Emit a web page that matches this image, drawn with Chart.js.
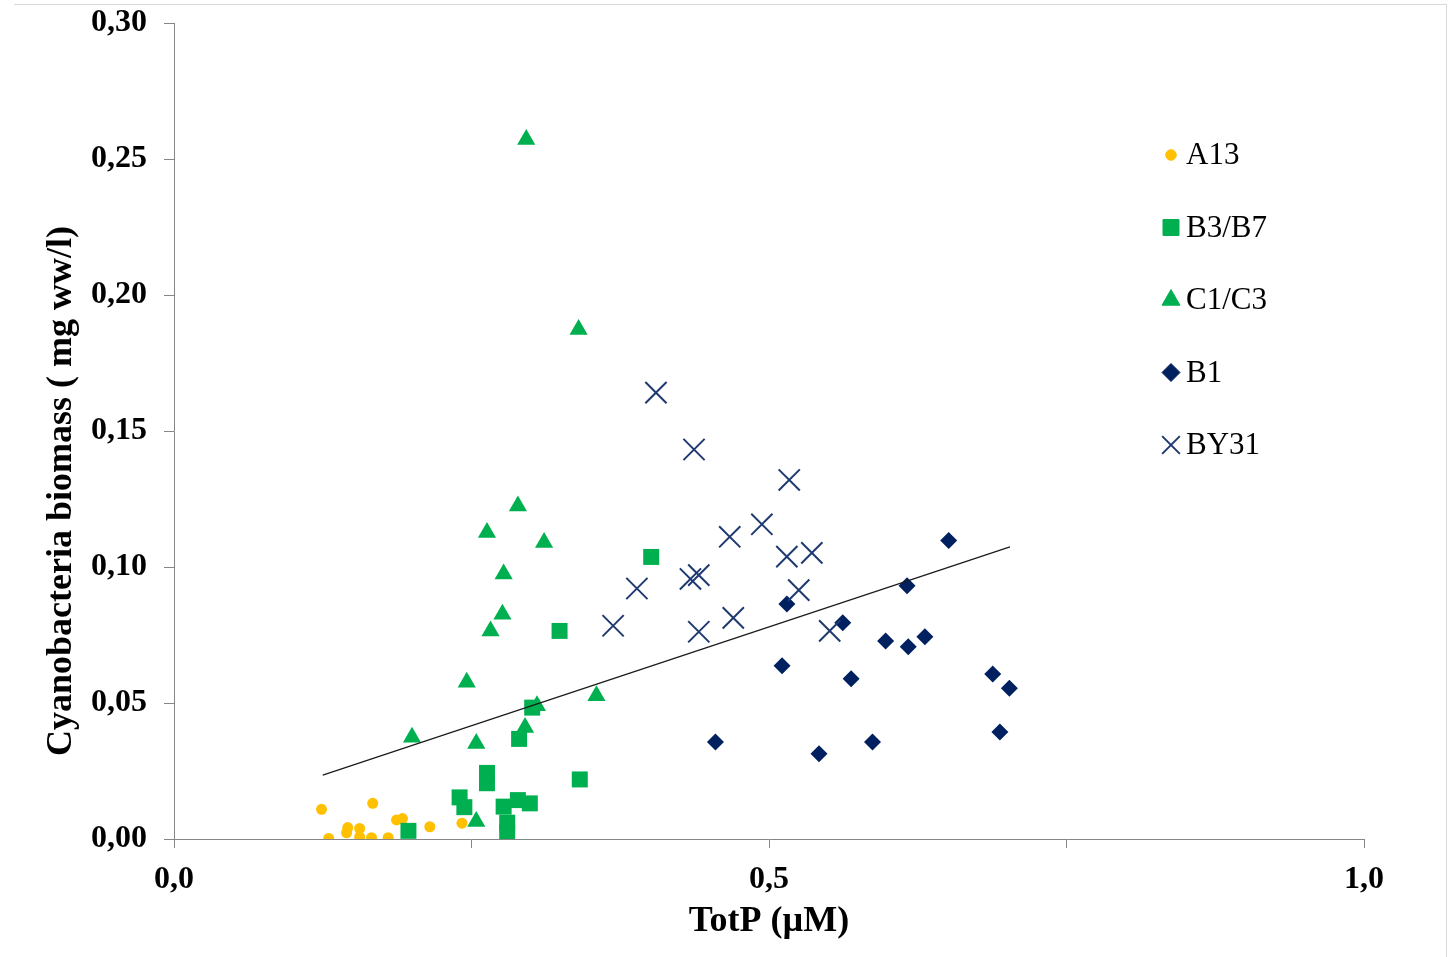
<!DOCTYPE html>
<html>
<head>
<meta charset="utf-8">
<script src="https://cdn.jsdelivr.net/npm/chart.js@4"></script>
<style>
  body { margin: 0; background: #fff; }
  #wrap { position: relative; width: 1452px; height: 957px; }
  #frame { position: absolute; left: 14px; top: 4px; width: 1432px; height: 960px;
           border-top: 1px solid #d9d9d9; border-right: 1px solid #d9d9d9; }
  canvas { position: absolute; left: 0; top: 0; }
</style>
</head>
<body>
<div id="wrap">
  <div id="frame"></div>
  <canvas id="grafico" width="1452" height="957"></canvas>
</div>
<script>
// valores (TotP em µM, biomassa em mg ww/l)
const a13X = [0.124, 0.130, 0.146, 0.145, 0.156, 0.156, 0.167, 0.166, 0.180, 0.187, 0.192, 0.215, 0.242];
const a13Y = [0.0109, 0.0002, 0.0042, 0.0023, 0.0039, 0.0008, 0.0131, 0.0005, 0.0005, 0.0070, 0.0075, 0.0045, 0.0058];

const b3b7X = [0.197, 0.240, 0.244, 0.263, 0.263, 0.277, 0.280, 0.280, 0.289, 0.299, 0.341, 0.290, 0.301, 0.324, 0.401];
const b3b7Y = [0.0030, 0.0153, 0.0117, 0.0243, 0.0205, 0.0119, 0.0060, 0.0025, 0.0143, 0.0131, 0.0219, 0.0368, 0.0483, 0.0765, 0.1037];

const c1c3X = [0.296, 0.340, 0.289, 0.263, 0.311, 0.277, 0.276, 0.266, 0.246, 0.305, 0.355, 0.200, 0.254, 0.295, 0.254];
const c1c3Y = [0.2572, 0.1873, 0.1224, 0.1127, 0.1090, 0.0974, 0.0826, 0.0765, 0.0576, 0.0490, 0.0527, 0.0374, 0.0351, 0.0410, 0.0064];

const b1X = [0.651, 0.616, 0.515, 0.562, 0.598, 0.617, 0.631, 0.511, 0.569, 0.688, 0.702, 0.694, 0.455, 0.542, 0.587];
const b1Y = [0.1097, 0.0931, 0.0864, 0.0795, 0.0728, 0.0707, 0.0744, 0.0637, 0.0589, 0.0607, 0.0554, 0.0393, 0.0357, 0.0313, 0.0357];

const by31X = [0.405, 0.437, 0.517, 0.494, 0.467, 0.515, 0.536, 0.434, 0.441, 0.525, 0.389, 0.369, 0.441, 0.470, 0.551];
const by31Y = [0.1641, 0.1432, 0.1320, 0.1157, 0.1111, 0.1038, 0.1052, 0.0956, 0.0970, 0.0915, 0.0921, 0.0784, 0.0762, 0.0813, 0.0765];

// linha de tendência (extremos)
const tendX = [0.125, 0.7025];
const tendY = [0.0235, 0.1074];

const xTickLabels = ['0,0', '', '0,5', '', '1,0'];
const yTickLabels = ['0,00', '0,05', '0,10', '0,15', '0,20', '0,25', '0,30'];
const tituloY = 'Cyanobacteria biomass ( mg ww/l)';
const tituloX = 'TotP (µM)';

const serie = [
    { nome: 'A13',   x: a13X,  y: a13Y,  cor: '#ffc000', estilo: 'circle',   raio: 5.5,  raioLeg: 5.3 },
    { nome: 'B3/B7', x: b3b7X, y: b3b7Y, cor: '#00b050', estilo: 'rect',     raio: 11.3, raioLeg: 11.3 },
    { nome: 'C1/C3', x: c1c3X, y: c1c3Y, cor: '#00b050', estilo: 'triangle', raio: 10.5, raioLeg: 10.4 },
    { nome: 'B1',    x: b1X,   y: b1Y,   cor: '#002060', estilo: 'rectRot',  raio: 8.5,  raioLeg: 9 },
    { nome: 'BY31',  x: by31X, y: by31Y, cor: '#1f3a70', estilo: 'crossRot', raio: 15,   raioLeg: 12.5 }
];

const fonteSerif = '"Liberation Serif", "Times New Roman", serif';

function pontos(xs, ys) {
    return xs.map((v, i) => ({ x: v, y: ys[i] }));
}

const datasets = [{
    type: 'line',
    label: 'tendência',
    data: pontos(tendX, tendY),
    borderColor: '#1a1a1a',
    borderWidth: 1.2,
    pointRadius: 0,
    fill: false,
    order: 0
}];

serie.forEach((s, i) => {
    datasets.push({
        label: s.nome,
        data: pontos(s.x, s.y),
        pointStyle: s.estilo,
        pointRadius: s.raio,
        backgroundColor: s.cor,
        borderColor: s.cor,
        borderWidth: s.estilo === 'crossRot' ? 2 : 0,
        order: serie.length - i
    });
});

const corEixo = '#868686';
const fonteEixo = { family: fonteSerif, size: 32, weight: 'bold' };

const legendaPlugin = {
    id: 'legendaManual',
    afterDraw(chart) {
        const ctx = chart.ctx;
        ctx.save();
        ctx.textBaseline = 'middle';
        serie.forEach((s, i) => {
            const y = 155 + i * 72.5;
            ctx.fillStyle = s.cor;
            ctx.strokeStyle = s.cor;
            ctx.lineWidth = s.estilo === 'crossRot' ? 2 : 0;
            Chart.helpers.drawPoint(ctx, { pointStyle: s.estilo, radius: s.raioLeg, rotation: 0, borderWidth: ctx.lineWidth }, 1171, y);
            ctx.font = '31px ' + fonteSerif;
            ctx.fillStyle = '#000';
            ctx.fillText(s.nome, 1186, y + 1);
        });

        // título do eixo y
        ctx.translate(62, 491);
        ctx.rotate(-Math.PI / 2);
        ctx.font = 'bold 36px ' + fonteSerif;
        ctx.textAlign = 'center';
        ctx.fillStyle = '#000';
        ctx.fillText(tituloY, 0, 0);
        ctx.restore();
    }
};

new Chart(document.getElementById('grafico'), {
    type: 'scatter',
    data: { datasets: datasets },
    options: {
        responsive: false,
        animation: false,
        layout: { padding: { left: 0, right: 88, top: 23, bottom: 0 } },
        plugins: {
            legend: { display: false },
            tooltip: { enabled: false }
        },
        scales: {
            x: {
                type: 'linear',
                min: 0,
                max: 1,
                ticks: {
                    stepSize: 0.25,
                    autoSkip: false,
                    maxRotation: 0,
                    padding: 13,
                    color: '#000',
                    font: fonteEixo,
                    callback: (v, i) => xTickLabels[i]
                },
                grid: { drawOnChartArea: false, drawTicks: true, tickLength: 9, color: corEixo },
                border: { display: true, color: corEixo, width: 1 },
                title: {
                    display: true,
                    text: tituloX,
                    color: '#000',
                    font: { family: fonteSerif, size: 36, weight: 'bold' },
                    padding: { top: 0, bottom: 14 }
                },
                afterFit(scale) {
                    scale.height = 118;
                    scale.paddingLeft = 0;
                    scale.paddingRight = 0;
                }
            },
            y: {
                type: 'linear',
                min: 0,
                max: 0.3,
                ticks: {
                    stepSize: 0.05,
                    autoSkip: false,
                    padding: 17,
                    color: '#000',
                    font: fonteEixo,
                    callback: (v, i) => yTickLabels[i]
                },
                grid: { drawOnChartArea: false, drawTicks: true, tickLength: 10, color: corEixo },
                border: { display: true, color: corEixo, width: 1 },
                afterFit(scale) {
                    scale.width = 174;
                    scale.paddingTop = 0;
                    scale.paddingBottom = 0;
                }
            }
        }
    },
    plugins: [legendaPlugin]
});
</script>
</body>
</html>
